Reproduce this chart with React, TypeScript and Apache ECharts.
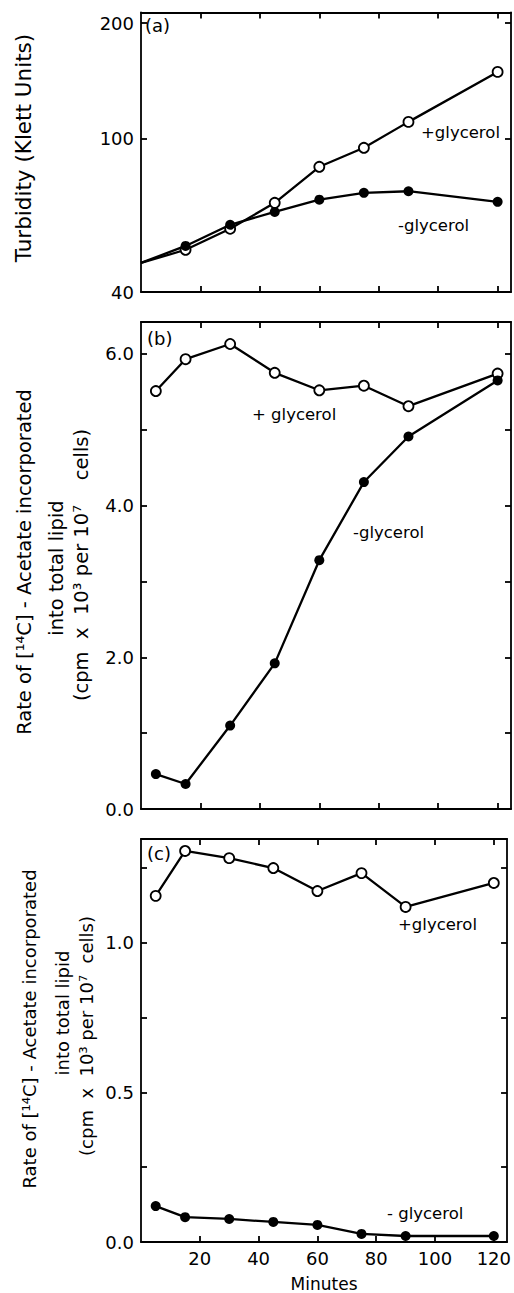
import React, { useEffect, useRef } from "react";
import * as echarts from "echarts";

// ---- data ----
const turbMinutes = [0, 15, 30, 45, 60, 75, 90, 120];
const turbPlusGlycerol = [47.6, 51.5, 58.4, 68.2, 84.6, 94.8, 110.7, 149.3];
const turbMinusGlycerol = [47.6, 52.7, 59.8, 64.6, 69.5, 72.4, 73.1, 68.6];

const minutes = [5, 15, 30, 45, 60, 75, 90, 120];
const ratePlusB = [5.51, 5.93, 6.13, 5.75, 5.52, 5.58, 5.31, 5.74];
const rateMinusB = [0.46, 0.33, 1.1, 1.92, 3.28, 4.31, 4.91, 5.65];
const ratePlusC = [1.157, 1.307, 1.283, 1.25, 1.173, 1.233, 1.12, 1.2];
const rateMinusC = [0.12, 0.083, 0.077, 0.067, 0.057, 0.027, 0.02, 0.02];

const xTicks = [20, 40, 60, 80, 100, 120];
const turbTicks = [40, 100, 200];
const bTicks = [1, 2, 3, 4, 5, 6];
const bLabels = [0, 2, 4, 6];
const cTicks = [0.25, 0.5, 0.75, 1, 1.25];
const cLabels = [0, 0.5, 1];

const FONT = '"DejaVu Sans", sans-serif';
const BLACK = "#000";
const X_MAX = 124.5;

const lineStyle = { color: BLACK, width: 1.8 };

function pair(xs: number[], ys: number[], hideFirst = false) {
  return xs.map((x, i) =>
    hideFirst && i === 0 ? { value: [x, ys[i]], symbol: "none" } : { value: [x, ys[i]] }
  );
}

function xAxes(gridIndex: number, withLabels: boolean) {
  const base = {
    type: "value",
    gridIndex,
    min: 0,
    max: X_MAX,
    splitLine: { show: false },
    axisLine: { show: true, onZero: false, lineStyle },
    axisTick: { show: true, inside: true, length: 6, customValues: xTicks, lineStyle },
  };
  return [
    {
      ...base,
      position: "bottom",
      axisLabel: withLabels
        ? { show: true, customValues: xTicks, color: BLACK, fontSize: 18, fontFamily: FONT, margin: 7 }
        : { show: false },
      ...(withLabels
        ? {
            name: "Minutes",
            nameLocation: "middle",
            nameGap: 33,
            nameTextStyle: { color: BLACK, fontSize: 17, fontFamily: FONT },
          }
        : {}),
    },
    { ...base, position: "top", axisLabel: { show: false } },
  ];
}

function yAxes(gridIndex: number, cfg: any, ticks: number[], labels: number[], fmt: (v: number) => string) {
  const base = {
    gridIndex,
    ...cfg,
    splitLine: { show: false },
    axisLine: { show: true, onZero: false, lineStyle },
    axisTick: { show: true, inside: true, length: 6, customValues: ticks, lineStyle },
  };
  return [
    {
      ...base,
      position: "left",
      axisLabel: {
        show: true,
        customValues: labels,
        formatter: (v: number) => fmt(v),
        color: BLACK,
        fontSize: 18,
        fontFamily: FONT,
        margin: 7,
      },
    },
    { ...base, position: "right", axisLabel: { show: false } },
  ];
}

function openSeries(xi: number, yi: number, data: any[]) {
  return {
    type: "line",
    xAxisIndex: xi,
    yAxisIndex: yi,
    data,
    symbol: "circle",
    symbolSize: 10,
    itemStyle: { color: "#fff", borderColor: BLACK, borderWidth: 1.8 },
    lineStyle: { color: BLACK, width: 2.3 },
    z: 3,
  };
}
function filledSeries(xi: number, yi: number, data: any[]) {
  return {
    type: "line",
    xAxisIndex: xi,
    yAxisIndex: yi,
    data,
    symbol: "circle",
    symbolSize: 10,
    itemStyle: { color: BLACK, borderColor: BLACK, borderWidth: 0 },
    lineStyle: { color: BLACK, width: 2.3 },
    z: 4,
  };
}

function text(x: number, y: number, t: string, size: number, extra: any = {}) {
  return {
    type: "text",
    x,
    y,
    ...extra,
    style: {
      text: t,
      fill: BLACK,
      fontSize: size,
      fontFamily: FONT,
      align: extra.center ? "center" : "left",
      verticalAlign: "middle",
      textAlign: extra.center ? "center" : "left",
      textVerticalAlign: "middle",
    },
  };
}
function vtext(x: number, y: number, t: string, size: number) {
  const el: any = text(x, y, t, size, { center: true });
  delete el.center;
  el.rotation = Math.PI / 2;
  return el;
}

export default function App() {
  const ref = useRef<HTMLDivElement>(null);
  useEffect(() => {
    if (!ref.current) return;
    const chart = echarts.init(ref.current, null, { renderer: "svg" });
    const option: any = {
      animation: false,
      backgroundColor: "#fff",
      grid: [
        { left: 141, top: 12.5, width: 370, height: 279.5 },
        { left: 141, top: 322, width: 370, height: 487 },
        { left: 141, top: 839, width: 370, height: 404 },
      ],
      xAxis: [...xAxes(0, false), ...xAxes(1, false), ...xAxes(2, true)],
      yAxis: [
        ...yAxes(0, { type: "log", logBase: 10, min: 40, max: 213 }, turbTicks, turbTicks, (v) => String(Math.round(v))),
        ...yAxes(1, { type: "value", min: 0, max: 6.42 }, bTicks, bLabels, (v) => v.toFixed(1)),
        ...yAxes(2, { type: "value", min: 0, max: 1.347 }, cTicks, cLabels, (v) => v.toFixed(1)),
      ],
      series: [
        openSeries(0, 0, pair(turbMinutes, turbPlusGlycerol, true)),
        filledSeries(0, 0, pair(turbMinutes, turbMinusGlycerol, true)),
        openSeries(2, 2, pair(minutes, ratePlusB)),
        filledSeries(2, 2, pair(minutes, rateMinusB)),
        openSeries(4, 4, pair(minutes, ratePlusC)),
        filledSeries(4, 4, pair(minutes, rateMinusC)),
      ],
      graphic: [
        text(145, 25, "(a)", 18),
        text(147, 338, "(b)", 18),
        text(147, 853, "(c)", 18),
        text(421, 132, "+glycerol", 16.5),
        text(398, 225, "-glycerol", 16.5),
        text(252, 414, "+ glycerol", 16.5),
        text(353, 532, "-glycerol", 16.5),
        text(398, 924, "+glycerol", 16.5),
        text(387, 1213, "- glycerol", 16.5),
        vtext(23, 148, "Turbidity (Klett Units)", 21.5),
        vtext(24, 562, "Rate of [\u00b9\u2074C] - Acetate incorporated", 19.5),
        vtext(56, 568, "into total lipid", 19.5),
        vtext(81, 565, "(cpm  x  10\u00b3 per 10\u2077    cells)", 19.5),
        vtext(29, 1029, "Rate of [\u00b9\u2074C] - Acetate incorporated", 18),
        vtext(62, 1013, "into total lipid", 18),
        vtext(86, 1036, "(cpm  x  10\u00b3 per 10\u2077  cells)", 18),
      ],
    };
    chart.setOption(option);
    return () => chart.dispose();
  }, []);
  return (
    <div
      ref={ref}
      style={{ position: "absolute", left: 0, top: 0, width: 514, height: 1293, background: "#fff" }}
    />
  );
}
